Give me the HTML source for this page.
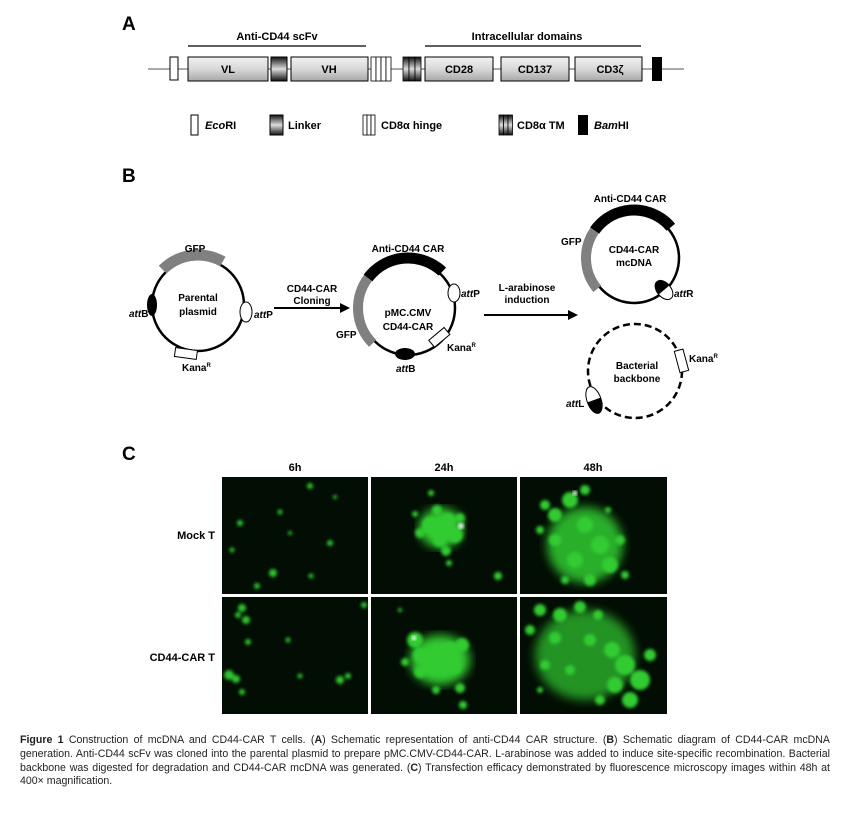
<!DOCTYPE html>
<html><head><meta charset="utf-8"><style>
body{margin:0;background:#fff;width:865px;height:820px;overflow:hidden;font-family:"Liberation Sans",Arial,sans-serif}
.cap{position:absolute;left:20px;top:734px;width:810px;font-size:10.6px;line-height:13.8px;text-align:justify;color:#222}
</style></head><body>
<svg width="865" height="730" style="position:absolute;left:0;top:0" font-family="Liberation Sans, Arial, sans-serif">
<defs>
<linearGradient id="g" x1="0" y1="0" x2="0" y2="1"><stop offset="0" stop-color="#f2f2f2"/><stop offset="0.5" stop-color="#d8d8d8"/><stop offset="1" stop-color="#a8a8a8"/></linearGradient>
<linearGradient id="lk" x1="0" y1="0" x2="0" y2="1"><stop offset="0" stop-color="#111"/><stop offset="0.5" stop-color="#ddd"/><stop offset="1" stop-color="#111"/></linearGradient>
<filter id="bl"><feGaussianBlur stdDeviation="1.6"/></filter>
<filter id="bl2"><feGaussianBlur stdDeviation="5"/></filter>
</defs>
<!-- Panel A -->
<text x="122" y="30" font-size="19" font-weight="bold">A</text>
<text x="277" y="40" font-size="11" font-weight="bold" text-anchor="middle">Anti-CD44 scFv</text>
<line x1="188" y1="46" x2="366" y2="46" stroke="#000" stroke-width="1.2"/>
<text x="527" y="40" font-size="11" font-weight="bold" text-anchor="middle">Intracellular domains</text>
<line x1="425" y1="46" x2="641" y2="46" stroke="#000" stroke-width="1.2"/>
<line x1="148" y1="69" x2="684" y2="69" stroke="#555" stroke-width="1"/>
<rect x="170" y="57" width="8" height="23" fill="#fff" stroke="#000"/>
<rect x="188" y="57" width="80" height="24" fill="url(#g)" stroke="#000"/>
<text x="228" y="73" font-size="11" font-weight="bold" text-anchor="middle">VL</text>
<rect x="271" y="57" width="16" height="24" fill="url(#lk)" stroke="#000"/>
<rect x="291" y="57" width="77" height="24" fill="url(#g)" stroke="#000"/>
<text x="329" y="73" font-size="11" font-weight="bold" text-anchor="middle">VH</text>
<g fill="#fff" stroke="#000" stroke-width="0.8"><rect x="371" y="57" width="5" height="24"/><rect x="376" y="57" width="5" height="24"/><rect x="381" y="57" width="5" height="24"/><rect x="386" y="57" width="5" height="24"/></g>
<g fill="url(#lk)" stroke="#000" stroke-width="0.8"><rect x="403" y="57" width="6" height="24"/><rect x="409" y="57" width="6" height="24"/><rect x="415" y="57" width="6" height="24"/></g>
<rect x="425" y="57" width="68" height="24" fill="url(#g)" stroke="#000"/>
<text x="459" y="73" font-size="11" font-weight="bold" text-anchor="middle">CD28</text>
<rect x="501" y="57" width="68" height="24" fill="url(#g)" stroke="#000"/>
<text x="535" y="73" font-size="11" font-weight="bold" text-anchor="middle">CD137</text>
<rect x="575" y="57" width="67" height="24" fill="url(#g)" stroke="#000"/>
<text x="610" y="73" font-size="11" font-weight="bold" text-anchor="middle">CD3ζ</text>
<rect x="652" y="57" width="10" height="24" fill="#000"/>
<!-- legend -->
<rect x="191" y="115" width="7" height="20" fill="#fff" stroke="#000"/>
<text x="205" y="129" font-size="11" font-weight="bold"><tspan font-style="italic">Eco</tspan>RI</text>
<rect x="270" y="115" width="13" height="20" fill="url(#lk)" stroke="#000"/>
<text x="288" y="129" font-size="11" font-weight="bold">Linker</text>
<g fill="#fff" stroke="#000" stroke-width="0.8"><rect x="363" y="115" width="4" height="20"/><rect x="367" y="115" width="4" height="20"/><rect x="371" y="115" width="4" height="20"/></g>
<text x="381" y="129" font-size="11" font-weight="bold">CD8α hinge</text>
<g fill="url(#lk)" stroke="#000" stroke-width="0.8"><rect x="499" y="115" width="4.5" height="20"/><rect x="503.5" y="115" width="4.5" height="20"/><rect x="508" y="115" width="4.5" height="20"/></g>
<text x="517" y="129" font-size="11" font-weight="bold">CD8α TM</text>
<rect x="578" y="115" width="10" height="20" fill="#000"/>
<text x="594" y="129" font-size="11" font-weight="bold"><tspan font-style="italic">Bam</tspan>HI</text>

<!-- Panel B -->
<text x="122" y="182" font-size="19" font-weight="bold">B</text>
<!-- circle 1 -->
<circle cx="198" cy="305" r="46" fill="none" stroke="#000" stroke-width="2.5"/>
<circle cx="198" cy="305" r="50" fill="none" stroke="#808080" stroke-width="11" stroke-dasharray="65 400" transform="rotate(-135 198 305)"/>
<text x="195" y="252" font-size="10" font-weight="bold" text-anchor="middle">GFP</text>
<ellipse cx="152" cy="305" rx="5" ry="11" fill="#000"/>
<ellipse cx="246" cy="312" rx="6" ry="10" fill="#fff" stroke="#000"/>
<rect x="175" y="349" width="22" height="9" fill="#fff" stroke="#000" transform="rotate(8 186 353)"/>
<text x="198" y="301" font-size="10" font-weight="bold" text-anchor="middle">Parental</text>
<text x="198" y="315" font-size="10" font-weight="bold" text-anchor="middle">plasmid</text>
<text x="129" y="317" font-size="10" font-weight="bold"><tspan font-style="italic">att</tspan>B</text>
<text x="254" y="318" font-size="10" font-weight="bold"><tspan font-style="italic">att</tspan>P</text>
<text x="182" y="371" font-size="10" font-weight="bold">Kana<tspan font-size="6" dy="-4">R</tspan></text>
<!-- arrow 1 -->
<text x="312" y="292" font-size="10" font-weight="bold" text-anchor="middle">CD44-CAR</text>
<text x="312" y="304" font-size="10" font-weight="bold" text-anchor="middle">Cloning</text>
<line x1="274" y1="308" x2="342" y2="308" stroke="#000" stroke-width="2"/>
<polygon points="350,308 340,303 340,313" fill="#000"/>
<!-- circle 2 -->
<circle cx="408" cy="308" r="47" fill="none" stroke="#000" stroke-width="2.5"/>
<circle cx="408" cy="308" r="50" fill="none" stroke="#808080" stroke-width="10" stroke-dasharray="72 400" transform="rotate(135 408 308)"/>
<circle cx="408" cy="308" r="50" fill="none" stroke="#000" stroke-width="11" stroke-dasharray="84 400" transform="rotate(217 408 308)"/>
<ellipse cx="454" cy="293" rx="6" ry="9" fill="#fff" stroke="#000"/>
<rect x="429" y="333" width="20" height="9" fill="#fff" stroke="#000" transform="rotate(-40 439 337)"/>
<ellipse cx="405" cy="354" rx="10" ry="6" fill="#000"/>
<text x="408" y="252" font-size="10" font-weight="bold" text-anchor="middle">Anti-CD44 CAR</text>
<text x="408" y="316" font-size="10" font-weight="bold" text-anchor="middle">pMC.CMV</text>
<text x="408" y="330" font-size="10" font-weight="bold" text-anchor="middle">CD44-CAR</text>
<text x="336" y="338" font-size="10" font-weight="bold">GFP</text>
<text x="461" y="297" font-size="10" font-weight="bold"><tspan font-style="italic">att</tspan>P</text>
<text x="447" y="351" font-size="10" font-weight="bold">Kana<tspan font-size="6" dy="-4">R</tspan></text>
<text x="396" y="372" font-size="10" font-weight="bold"><tspan font-style="italic">att</tspan>B</text>
<!-- arrow 2 -->
<text x="527" y="291" font-size="10" font-weight="bold" text-anchor="middle">L-arabinose</text>
<text x="527" y="303" font-size="10" font-weight="bold" text-anchor="middle">induction</text>
<line x1="484" y1="315" x2="570" y2="315" stroke="#000" stroke-width="2"/>
<polygon points="578,315 568,310 568,320" fill="#000"/>
<!-- circle 3 -->
<circle cx="634" cy="258" r="45" fill="none" stroke="#000" stroke-width="2.5"/>
<circle cx="634" cy="258" r="48" fill="none" stroke="#808080" stroke-width="10" stroke-dasharray="63 400" transform="rotate(140 634 258)"/>
<circle cx="634" cy="258" r="48" fill="none" stroke="#000" stroke-width="11" stroke-dasharray="88 400" transform="rotate(215 634 258)"/>
<g transform="rotate(-40 664 290)">
<ellipse cx="664" cy="290" rx="7" ry="11" fill="#fff" stroke="#000"/>
<path d="M657,290 A7,11 0 0 1 671,290 Z" fill="#000"/>
</g>
<text x="630" y="202" font-size="10" font-weight="bold" text-anchor="middle">Anti-CD44 CAR</text>
<text x="561" y="245" font-size="10" font-weight="bold">GFP</text>
<text x="634" y="253" font-size="10" font-weight="bold" text-anchor="middle">CD44-CAR</text>
<text x="634" y="266" font-size="10" font-weight="bold" text-anchor="middle">mcDNA</text>
<text x="674" y="297" font-size="10" font-weight="bold"><tspan font-style="italic">att</tspan>R</text>
<!-- circle 4 -->
<circle cx="635" cy="371" r="47" fill="none" stroke="#000" stroke-width="2.5" stroke-dasharray="7 4"/>
<rect x="677" y="350" width="9" height="22" fill="#fff" stroke="#000" transform="rotate(-15 681 361)"/>
<g transform="rotate(-20 594 400)">
<ellipse cx="594" cy="400" rx="7" ry="14" fill="#fff" stroke="#000"/>
<path d="M587,400 A7,14 0 0 0 601,400 Z" fill="#000"/>
</g>
<text x="637" y="369" font-size="10" font-weight="bold" text-anchor="middle">Bacterial</text>
<text x="637" y="382" font-size="10" font-weight="bold" text-anchor="middle">backbone</text>
<text x="689" y="362" font-size="10" font-weight="bold">Kana<tspan font-size="6" dy="-4">R</tspan></text>
<text x="566" y="407" font-size="10" font-weight="bold"><tspan font-style="italic">att</tspan>L</text>

<!-- Panel C -->
<text x="122" y="460" font-size="19" font-weight="bold">C</text>
<text x="295" y="471" font-size="11" font-weight="bold" text-anchor="middle">6h</text>
<text x="444" y="471" font-size="11" font-weight="bold" text-anchor="middle">24h</text>
<text x="593" y="471" font-size="11" font-weight="bold" text-anchor="middle">48h</text>
<text x="215" y="539" font-size="11" font-weight="bold" text-anchor="end">Mock T</text>
<text x="215" y="661" font-size="11" font-weight="bold" text-anchor="end">CD44-CAR T</text>
<g fill="#020d03">
<rect x="222" y="477" width="146" height="117"/><rect x="371" y="477" width="146" height="117"/><rect x="520" y="477" width="147" height="117"/>
<rect x="222" y="597" width="146" height="117"/><rect x="371" y="597" width="146" height="117"/><rect x="520" y="597" width="147" height="117"/>
</g>
<!-- 6h mock -->
<g fill="#2ec42e" filter="url(#bl)">
<circle cx="240" cy="523" r="3"/><circle cx="280" cy="512" r="2.5"/><circle cx="310" cy="486" r="3"/><circle cx="257" cy="586" r="3"/><circle cx="273" cy="573" r="4"/><circle cx="311" cy="576" r="2.5"/><circle cx="330" cy="543" r="3"/><circle cx="232" cy="550" r="2.5"/><circle cx="290" cy="533" r="2"/><circle cx="335" cy="497" r="2"/>
</g>
<!-- 6h CAR -->
<g fill="#2ec42e" filter="url(#bl)">
<circle cx="242" cy="608" r="4"/><circle cx="246" cy="620" r="4"/><circle cx="238" cy="615" r="3"/><circle cx="248" cy="642" r="3"/><circle cx="229" cy="675" r="5"/><circle cx="236" cy="679" r="4"/><circle cx="242" cy="692" r="3"/><circle cx="340" cy="680" r="4"/><circle cx="348" cy="676" r="3"/><circle cx="288" cy="640" r="2.5"/><circle cx="300" cy="676" r="2.5"/><circle cx="364" cy="605" r="3"/>
</g>
<!-- 24h mock -->
<g fill="#33cc33">
<ellipse cx="441" cy="528" rx="22" ry="20" filter="url(#bl2)"/>
<g filter="url(#bl)"><circle cx="430" cy="525" r="8"/><circle cx="448" cy="520" r="7"/><circle cx="455" cy="535" r="8"/><circle cx="440" cy="540" r="7"/><circle cx="437" cy="510" r="5"/><circle cx="460" cy="518" r="5"/><circle cx="420" cy="533" r="5"/><circle cx="446" cy="551" r="5"/><circle cx="415" cy="514" r="3"/><circle cx="449" cy="563" r="3"/><circle cx="498" cy="576" r="4"/><circle cx="431" cy="493" r="3"/></g>
<circle cx="461" cy="526" r="3" fill="#e8ffe8" filter="url(#bl)"/>
</g>
<!-- 48h mock -->
<g fill="#33cc33">
<ellipse cx="585" cy="545" rx="38" ry="38" filter="url(#bl2)" opacity="0.85"/>
<g filter="url(#bl)"><circle cx="570" cy="500" r="8"/><circle cx="555" cy="515" r="7"/><circle cx="585" cy="525" r="8"/><circle cx="600" cy="545" r="9"/><circle cx="575" cy="560" r="8"/><circle cx="555" cy="540" r="6"/><circle cx="610" cy="565" r="8"/><circle cx="590" cy="580" r="6"/><circle cx="545" cy="505" r="5"/><circle cx="620" cy="540" r="5"/><circle cx="585" cy="490" r="5"/><circle cx="565" cy="580" r="4"/><circle cx="625" cy="575" r="4"/><circle cx="540" cy="530" r="4"/><circle cx="608" cy="510" r="3"/></g>
<circle cx="575" cy="493" r="2.5" fill="#e8ffe8" filter="url(#bl)"/>
</g>
<!-- 24h CAR -->
<g fill="#33cc33">
<ellipse cx="440" cy="660" rx="30" ry="25" filter="url(#bl2)"/>
<g filter="url(#bl)"><circle cx="415" cy="640" r="8"/><circle cx="420" cy="655" r="7"/><circle cx="435" cy="665" r="9"/><circle cx="450" cy="650" r="8"/><circle cx="462" cy="645" r="7"/><circle cx="455" cy="668" r="6"/><circle cx="420" cy="672" r="6"/><circle cx="460" cy="688" r="5"/><circle cx="463" cy="705" r="4"/><circle cx="405" cy="662" r="4"/><circle cx="436" cy="690" r="4"/><circle cx="400" cy="610" r="2"/></g>
<circle cx="414" cy="638" r="2.5" fill="#e8ffe8" filter="url(#bl)"/>
</g>
<!-- 48h CAR -->
<g fill="#33cc33">
<ellipse cx="585" cy="655" rx="50" ry="45" filter="url(#bl2)" opacity="0.7"/>
<g filter="url(#bl)"><circle cx="540" cy="610" r="6"/><circle cx="560" cy="615" r="7"/><circle cx="580" cy="607" r="6"/><circle cx="598" cy="615" r="5"/><circle cx="530" cy="630" r="5"/><circle cx="555" cy="638" r="6"/><circle cx="590" cy="640" r="6"/><circle cx="612" cy="650" r="8"/><circle cx="625" cy="665" r="10"/><circle cx="640" cy="680" r="10"/><circle cx="615" cy="685" r="8"/><circle cx="630" cy="700" r="8"/><circle cx="650" cy="655" r="6"/><circle cx="545" cy="665" r="5"/><circle cx="570" cy="670" r="5"/><circle cx="540" cy="690" r="3"/><circle cx="600" cy="700" r="5"/></g>
</g>
</svg>
<div class="cap"><b>Figure 1</b> Construction of mcDNA and CD44-CAR T cells. (<b>A</b>) Schematic representation of anti-CD44 CAR structure. (<b>B</b>) Schematic diagram of CD44-CAR mcDNA generation. Anti-CD44 scFv was cloned into the parental plasmid to prepare pMC.CMV-CD44-CAR. L-arabinose was added to induce site-specific recombination. Bacterial backbone was digested for degradation and CD44-CAR mcDNA was generated. (<b>C</b>) Transfection efficacy demonstrated by fluorescence microscopy images within 48h at 400× magnification.</div>
</body></html>
